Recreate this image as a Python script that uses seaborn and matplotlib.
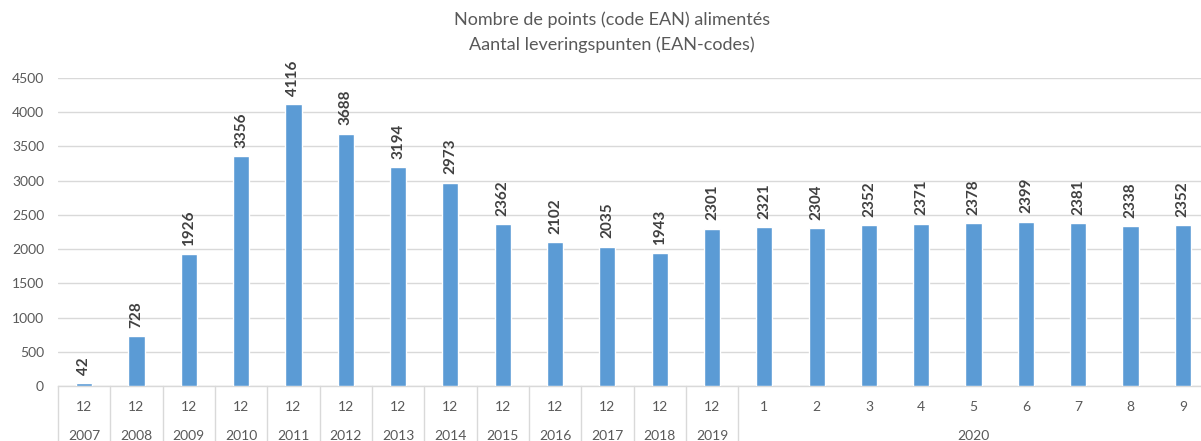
import matplotlib

matplotlib.use("Agg")

import matplotlib.pyplot as plt
import matplotlib.transforms as mtransforms
import pandas as pd
import seaborn as sns


MONTHS = ["12"] * 13 + ["1", "2", "3", "4", "5", "6", "7", "8", "9"]
YEARS = ["2007", "2008", "2009", "2010", "2011", "2012", "2013", "2014", "2015",
         "2016", "2017", "2018", "2019", "2020"]
VALUES = [42, 728, 1926, 3356, 4116, 3688, 3194, 2973, 2362, 2102, 2035, 1943, 2301,
          2321, 2304, 2352, 2371, 2378, 2399, 2381, 2338, 2352]

BAR_COLOR = "#5B9BD5"
GRID_COLOR = "#D9D9D9"
TEXT_COLOR = "#595959"


def main() -> None:
    sns.set_theme(style="white")
    plt.rcParams["font.family"] = ["Lato", "DejaVu Sans"]

    df = pd.DataFrame({"idx": list(range(len(VALUES))), "value": VALUES})

    fig = plt.figure(figsize=(12.01, 4.41), dpi=100)
    ax = fig.add_axes([58 / 1201, 55 / 441, 1151 / 1201, 308 / 441])
    sns.barplot(data=df, x="idx", y="value", color=BAR_COLOR, width=0.31,
                saturation=1, ax=ax, zorder=3)

    ax.set_ylim(0, 4500)
    ax.set_xlim(-0.5, len(VALUES) - 0.5)
    ax.set_yticks(range(0, 4501, 500))
    ax.tick_params(axis="y", length=0, labelsize=10, labelcolor=TEXT_COLOR, pad=10)
    ax.set_xticks([])
    ax.set_xlabel("")
    ax.set_ylabel("")
    ax.grid(axis="y", color=GRID_COLOR, linewidth=1, zorder=0)
    for side in ["top", "right", "left"]:
        ax.spines[side].set_visible(False)
    ax.spines["bottom"].set_color(GRID_COLOR)
    ax.spines["bottom"].set_linewidth(1)

    for i, v in enumerate(VALUES):
        ax.annotate(str(v), (i, v), xytext=(0, 6), textcoords="offset points",
                    rotation=90, ha="center", va="bottom", fontsize=11,
                    fontweight="bold", color="#404040")

    trans = mtransforms.blended_transform_factory(ax.transData, ax.transAxes)
    for i, m in enumerate(MONTHS):
        ax.text(i, -0.068, m, transform=trans, ha="center", va="center",
                fontsize=10, color=TEXT_COLOR)
    for i, y in enumerate(YEARS[:-1]):
        ax.text(i, -0.162, y, transform=trans, ha="center", va="center",
                fontsize=10, color=TEXT_COLOR)
    ax.text((13 + len(VALUES) - 1) / 2, -0.162, YEARS[-1], transform=trans,
            ha="center", va="center", fontsize=10, color=TEXT_COLOR)

    for b in [i - 0.5 for i in range(14)] + [len(VALUES) - 0.5]:
        ax.plot([b, b], [0, -0.2], transform=trans, color=GRID_COLOR,
                linewidth=1, clip_on=False)

    fig.text(612 / 1201, 1 - 20 / 441, "Nombre de points (code EAN) alimentés",
             ha="center", va="center", fontsize=13, color=TEXT_COLOR)
    fig.text(612 / 1201, 1 - 45 / 441, "Aantal leveringspunten (EAN-codes)",
             ha="center", va="center", fontsize=13, color=TEXT_COLOR)

    fig.savefig("out.png", dpi=100)


if __name__ == "__main__":
    main()
